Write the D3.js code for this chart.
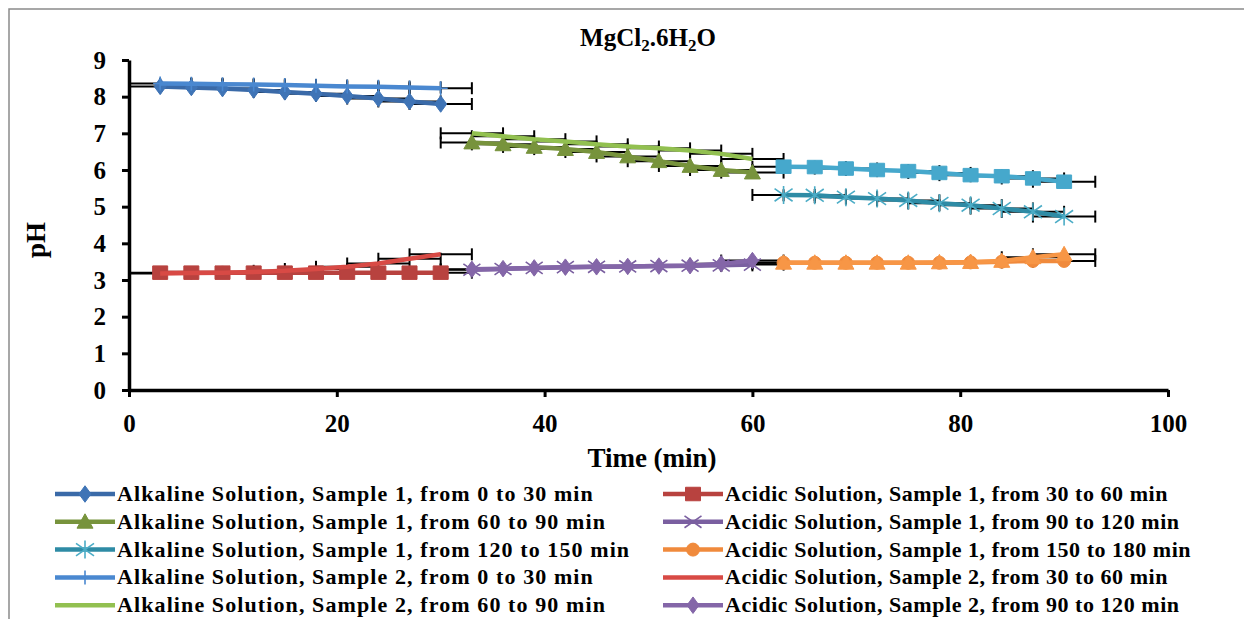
<!DOCTYPE html>
<html><head><meta charset="utf-8">
<script src="https://cdn.jsdelivr.net/npm/d3@7"></script>
<style>
body{margin:0;background:#fff}
svg{display:block}
text{font-family:"Liberation Serif","Times New Roman",serif;font-weight:bold;fill:#000}
</style>
</head><body><svg id="c" width="1244" height="619"></svg>
<script>
// ---- data ----
const timeA=[3,6,9,12,15,18,21,24,27,30];
const timeB=[33,36,39,42,45,48,51,54,57,60];
const timeC=[63,66,69,72,75,78,81,84,87,90];
const alkS1_0_30   =[8.28,8.25,8.22,8.18,8.13,8.08,8.02,7.95,7.87,7.80];
const acidS1_30_60 =[3.20,3.20,3.20,3.20,3.20,3.20,3.20,3.20,3.20,3.20];
const alkS1_60_90  =[6.75,6.70,6.63,6.57,6.49,6.37,6.24,6.11,6.00,5.93];
const acidS1_90_120=[3.28,3.30,3.33,3.35,3.36,3.37,3.38,3.39,3.40,3.42];
const alkS1_120_150=[5.32,5.31,5.26,5.22,5.17,5.09,5.04,4.95,4.86,4.73];
const acidS1_150_180=[3.47,3.47,3.47,3.47,3.47,3.47,3.48,3.50,3.52,3.52];
const alkS2_0_30   =[8.36,8.35,8.34,8.33,8.32,8.30,8.28,8.27,8.25,8.23];
const acidS2_30_60 =[3.18,3.19,3.20,3.22,3.25,3.30,3.36,3.45,3.58,3.70];
const alkS2_60_90  =[7.00,6.92,6.84,6.78,6.70,6.64,6.59,6.53,6.44,6.30];
const acidS2_90_120=[3.29,3.31,3.33,3.35,3.36,3.37,3.38,3.39,3.44,3.53];
const alkS2_120_150=[6.09,6.08,6.04,6.00,5.97,5.92,5.86,5.83,5.77,5.68];
const acidS2_150_180=[3.47,3.47,3.47,3.47,3.47,3.48,3.49,3.52,3.62,3.70];
const seriesNames=[
 "Alkaline Solution, Sample 1, from 0 to 30 min",
 "Acidic Solution, Sample 1, from 30 to 60 min",
 "Alkaline Solution, Sample 1, from 60 to 90 min",
 "Acidic Solution, Sample 1, from 90 to 120 min",
 "Alkaline Solution, Sample 1, from 120 to 150 min",
 "Acidic Solution, Sample 1, from 150 to 180 min",
 "Alkaline Solution, Sample 2, from 0 to 30 min",
 "Acidic Solution, Sample 2, from 30 to 60 min",
 "Alkaline Solution, Sample 2, from 60 to 90 min",
 "Acidic Solution, Sample 2, from 90 to 120 min",
 "Alkaline Solution, Sample 2, from 120 to 150 min",
 "Acidic Solution, Sample 2, from 150 to 180 min"
];
const xTicks=[0,20,40,60,80,100];
const yTicks=[0,1,2,3,4,5,6,7,8,9];
const errX=3;
const visibleLegendEntries=10; // the rest of the legend lies below the picture's edge

// ---- styles ----
const styles=[
 {line:"#3A6AA8",fill:"#3F74B6",marker:"diamond"},
 {line:"#B8423F",fill:"#B8423F",marker:"square"},
 {line:"#77933C",fill:"#77933C",marker:"triangle"},
 {line:"#7A5FA0",fill:"#7A5FA0",marker:"x"},
 {line:"#2E8BA5",fill:"#4BACC6",marker:"star"},
 {line:"#F08A3C",fill:"#F08A3C",marker:"circle"},
 {line:"#4A88D0",fill:"#4A88D0",marker:"plus"},
 {line:"#D84A45",fill:"#D84A45",marker:null},
 {line:"#92C050",fill:"#92C050",marker:null},
 {line:"#8466A8",fill:"#8466A8",marker:"diamond"},
 {line:"#46A8CC",fill:"#46A8CC",marker:"square"},
 {line:"#F79646",fill:"#F79646",marker:"triangle"}
];
const seriesData=[
 [timeA,alkS1_0_30],[timeA,acidS1_30_60],[timeB,alkS1_60_90],[timeB,acidS1_90_120],
 [timeC,alkS1_120_150],[timeC,acidS1_150_180],[timeA,alkS2_0_30],[timeA,acidS2_30_60],
 [timeB,alkS2_60_90],[timeB,acidS2_90_120],[timeC,alkS2_120_150],[timeC,acidS2_150_180]
];
const series=seriesNames.map((n,i)=>({name:n,...styles[i],
  pts:seriesData[i][0].map((t,j)=>({t:t,v:seriesData[i][1][j]}))}));

const svg=d3.select("#c");
// outer border
svg.append("path").attr("d","M9,619 V9 H1244").attr("fill","none").attr("stroke","#8a8a8a").attr("stroke-width",1.5);

const x=d3.scaleLinear().domain([0,100]).range([129,1168]);
const y=d3.scaleLinear().domain([0,9]).range([390,60]);

// title
const title=svg.append("text").attr("x",648).attr("y",46).attr("text-anchor","middle").style("font-size","25px");
title.append("tspan").text("MgCl");
title.append("tspan").attr("dy",5).style("font-size","17px").text("2");
title.append("tspan").attr("dy",-5).text(".6H");
title.append("tspan").attr("dy",5).style("font-size","17px").text("2");
title.append("tspan").attr("dy",-5).text("O");

// axes
const gx=svg.append("g").attr("transform","translate(0,390)")
  .call(d3.axisBottom(x).tickValues(xTicks).tickSize(7).tickSizeOuter(0).tickPadding(17));
const gy=svg.append("g").attr("transform","translate(129,0)")
  .call(d3.axisLeft(y).tickValues(yTicks).tickSize(7).tickSizeOuter(0).tickPadding(16));
[gx,gy].forEach(g=>{
  g.select(".domain").attr("stroke","#000").attr("stroke-width",3.5);
  g.selectAll(".tick line").attr("stroke","#000").attr("stroke-width",3);
  g.selectAll(".tick text").style("font-size","25px").attr("fill","#000").style("font-family",'"Liberation Serif",serif').style("font-weight","bold");
});
svg.append("text").attr("x",652).attr("y",467).attr("text-anchor","middle").style("font-size","27px").text("Time (min)");
svg.append("text").attr("transform","translate(45,240) rotate(-90)").attr("text-anchor","middle").style("font-size","27px").text("pH");

// marker path generator
function markerPath(type,s){
  const h=s/2;
  switch(type){
    case "diamond": return `M0,${-h*1.1}L${h*0.8},0L0,${h*1.1}L${-h*0.8},0Z`;
    case "square": return `M${-h},${-h*0.9}H${h}V${h*0.9}H${-h}Z`;
    case "triangle": return `M0,${-h}L${h},${h*0.8}H${-h}Z`;
    case "circle": return d3.symbol(d3.symbolCircle, Math.PI*h*h*0.75)();
    case "x": return `M${-h},${-h*0.7}L${h},${h*0.7}M${-h},${h*0.7}L${h},${-h*0.7}`;
    case "star": return `M${-h},${-h*0.7}L${h},${h*0.7}M${-h},${h*0.7}L${h},${-h*0.7}M0,${-h}V${h}`;
    case "plus": return `M${-h},0H${h}M0,${-h}V${h}`;
  }
  return "";
}
function drawMarker(g,type,cx,cy,st,s){
  if(!type) return;
  const stroked=(type==="x"||type==="star"||type==="plus");
  g.append("path").attr("transform",`translate(${cx},${cy})`).attr("d",markerPath(type,s))
   .attr("fill",stroked?"none":st.fill).attr("stroke",st.fill).attr("stroke-width",stroked?1.6:1);
}
const sizes={diamond:15,square:15,triangle:16,circle:15,x:17,star:18,plus:14};

// error bars
const eg=svg.append("g");
series.forEach(s=>{
  s.pts.forEach(p=>{
    const yy=y(p.v);
    eg.append("line").attr("x1",x(p.t-errX)).attr("x2",x(p.t+errX)).attr("y1",yy).attr("y2",yy).attr("stroke","#000").attr("stroke-width",2);
    [p.t-errX,p.t+errX].forEach(tt=>eg.append("line").attr("x1",x(tt)).attr("x2",x(tt)).attr("y1",yy-6).attr("y2",yy+6).attr("stroke","#000").attr("stroke-width",2));
  });
});
// lines + markers
const line=d3.line().x(d=>x(d.t)).y(d=>y(d.v));
series.forEach(s=>{
  const g=svg.append("g");
  g.append("path").datum(s.pts).attr("d",line).attr("fill","none").attr("stroke",s.line).attr("stroke-width",4.5).attr("stroke-linejoin","round");
  s.pts.forEach(p=>drawMarker(g,s.marker,x(p.t),y(p.v),s,sizes[s.marker]));
});

// legend (two columns, row-major)
const lg=svg.append("g");
series.slice(0,visibleLegendEntries).forEach((s,i)=>{
  const col=i%2, row=Math.floor(i/2);
  const lx= col===0?55:663, ly=494+row*27.8;
  lg.append("line").attr("x1",lx).attr("x2",lx+60).attr("y1",ly).attr("y2",ly).attr("stroke",s.line).attr("stroke-width",4.5);
  drawMarker(lg,s.marker,lx+30,ly,s,sizes[s.marker]);
  lg.append("text").attr("x",lx+62).attr("y",ly+7).style("font-size","22px")
    .style("letter-spacing",col===0?"1.1px":"0.55px").text(s.name);
});
</script></body></html>
